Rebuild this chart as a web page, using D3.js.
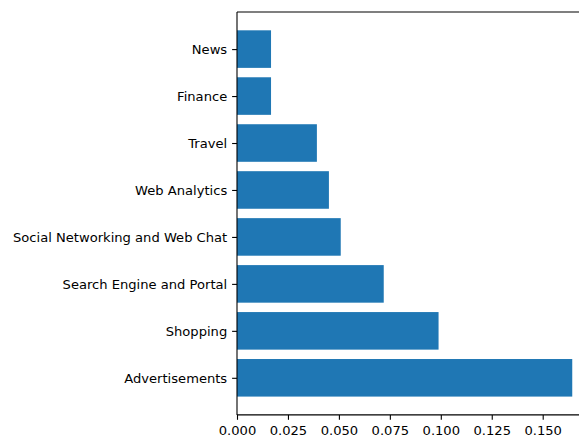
<!DOCTYPE html>
<html>
<head>
<meta charset="utf-8">
<script src="https://cdn.jsdelivr.net/npm/d3@7"></script>
<style>
  html, body { margin: 0; padding: 0; background: #fff; overflow: hidden; }
  text { font-family: "DejaVu Sans", sans-serif; fill: #000; }
</style>
</head>
<body>
<svg id="chart" width="579" height="438"></svg>
<script>
// Categories from bottom to top, with their shares
const categories = [
  "Advertisements",
  "Shopping",
  "Search Engine and Portal",
  "Social Networking and Web Chat",
  "Web Analytics",
  "Travel",
  "Finance",
  "News"
];
const values = [0.1645, 0.0989, 0.0720, 0.0509, 0.0451, 0.0392, 0.0167, 0.0167];
const xTicks = [0.000, 0.025, 0.050, 0.075, 0.100, 0.125, 0.150];

const svg = d3.select("#chart");
const plotLeft = 237, plotTop = 12, plotBottom = 414.9;
const pxPerUnit = 2038;
const fontSize = 13.1;
const xMax = d3.max(values) * 1.05;
const plotRight = plotLeft + xMax * pxPerUnit;

const x = d3.scaleLinear().domain([0, xMax]).range([plotLeft, plotRight]);
// numeric y positions: index 0 at bottom, with 5% margins around the bars
const n = categories.length;
const yLo = -0.4, yHi = n - 1 + 0.4, pad = (yHi - yLo) * 0.05;
const y = d3.scaleLinear().domain([yLo - pad, yHi + pad]).range([plotBottom, plotTop]);
const barH = Math.abs(y(0.8) - y(0));

// bars
svg.append("g").selectAll("rect")
  .data(values)
  .join("rect")
  .attr("x", x(0))
  .attr("y", (d, i) => y(i + 0.4))
  .attr("width", d => x(d) - x(0))
  .attr("height", barH)
  .attr("fill", "#1f77b4");

// x axis
const xAxis = d3.axisBottom(x)
  .tickValues(xTicks)
  .tickFormat(d3.format(".3f"))
  .tickSize(4.9)
  .tickPadding(5.6)
  .tickSizeOuter(0);
const gx = svg.append("g").attr("transform", `translate(0,${plotBottom})`).call(xAxis);
gx.select(".domain").remove();
gx.selectAll(".tick line").attr("stroke", "#000").attr("stroke-width", 1.1);
gx.selectAll(".tick text").attr("font-size", fontSize).attr("font-family", "DejaVu Sans").attr("fill", "#000");

// y axis
const yAxis = d3.axisLeft(y)
  .tickValues(d3.range(n))
  .tickFormat(i => categories[i])
  .tickSize(4.9)
  .tickPadding(4.9)
  .tickSizeOuter(0);
const gy = svg.append("g").attr("transform", `translate(${plotLeft},0)`).call(yAxis);
gy.select(".domain").remove();
gy.selectAll(".tick line").attr("stroke", "#000").attr("stroke-width", 1.1);
gy.selectAll(".tick text").attr("font-size", fontSize).attr("font-family", "DejaVu Sans").attr("fill", "#000");

// spines
const spine = svg.append("g").attr("stroke", "#000").attr("stroke-width", 1.1).attr("fill", "none");
spine.append("line").attr("x1", plotLeft).attr("x2", plotLeft).attr("y1", plotTop).attr("y2", plotBottom);
spine.append("line").attr("x1", plotLeft).attr("x2", plotRight).attr("y1", plotBottom).attr("y2", plotBottom);
spine.append("line").attr("x1", plotLeft).attr("x2", plotRight).attr("y1", plotTop).attr("y2", plotTop);
spine.append("line").attr("x1", plotRight).attr("x2", plotRight).attr("y1", plotTop).attr("y2", plotBottom);
</script>
</body>
</html>
